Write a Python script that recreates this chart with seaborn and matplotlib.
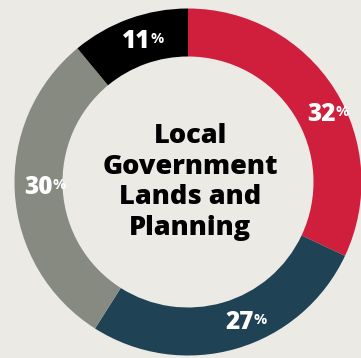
import matplotlib
matplotlib.use("Agg")
import matplotlib.pyplot as plt
import seaborn as sns
import numpy as np

# Share of spending by category (clockwise from 12 o'clock)
categories = ["Red", "Navy", "Grey", "Black"]
shares = [32, 27, 30, 11]
colors = ["#d01f3d", "#1f4254", "#868a80", "#000000"]
label_nudge_deg = [5.7, -3.8, 1.4, -0.3]
center_title = "Local\nGovernment\nLands and\nPlanning"

BG = "#ebeae5"
sns.set_theme(style="white", rc={"figure.facecolor": BG, "axes.facecolor": BG})
plt.rcParams["font.family"] = ["Open Sans", "DejaVu Sans"]

W, H = 361, 358
fig = plt.figure(figsize=(W / 100, H / 100), dpi=100)
ax = fig.add_axes([0, 0, 1, 1])

cx, cy = 188, H - 182
r_out = 173.5
ring = 48

wedges, _ = ax.pie(shares, colors=colors, startangle=90, counterclock=False,
                   radius=r_out, center=(cx, cy),
                   wedgeprops=dict(width=ring, linewidth=0))
ax.set_xlim(0, W)
ax.set_ylim(0, H)
ax.set_aspect("equal")
ax.axis("off")

ax.text(cx + 2, cy, center_title, ha="center", va="center",
        fontsize=19.5, fontweight="heavy", color="#000000", linespacing=1.24)

fig.canvas.draw()
r_lab = r_out - ring / 2
inv = ax.transData.inverted()
for w, val, nudge in zip(wedges, shares, label_nudge_deg):
    mid = np.deg2rad((w.theta1 + w.theta2) / 2 - nudge)
    x = cx + r_lab * np.cos(mid)
    y = cy + r_lab * np.sin(mid)
    t = ax.text(x, y, f"{val}", ha="center", va="center", fontsize=17.5,
                fontweight="heavy", color="white")
    bb = t.get_window_extent(renderer=fig.canvas.get_renderer())
    px, py = inv.transform((bb.x1, bb.y1 - 3))
    ax.text(px, py, "%", ha="left", va="top", fontsize=10.5,
            fontweight="bold", color="white")

fig.savefig("out.png", dpi=100, facecolor=BG)
